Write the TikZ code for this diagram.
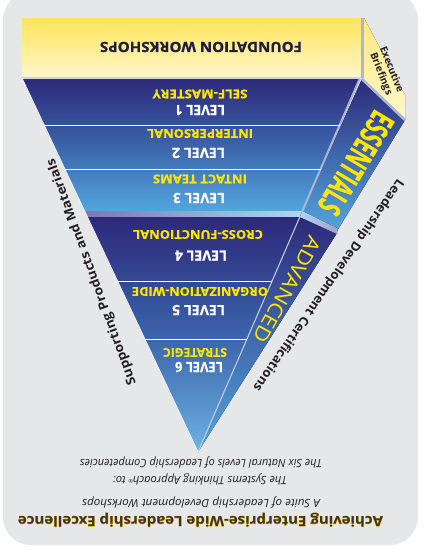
\documentclass[tikz,border=0pt]{standalone}
\usepackage{fontspec}
\setmainfont{Open Sans}
\newfontfamily\achfat{Open Sans}[FakeBold=2.2]
\newfontfamily\heavy{Open Sans}[FakeBold=0.7]
\newlength\pxu \setlength\pxu{0.75pt}
\newcommand\fitw[2]{\resizebox{#1\pxu}{\height}{#2}}
\definecolor{bgc}{HTML}{E6E7E8}
\definecolor{navy}{HTML}{2D2979}
\definecolor{midb}{HTML}{3B62AA}
\definecolor{ltb}{HTML}{52A6DD}
\definecolor{ltb2}{HTML}{AED6F3}
\definecolor{lav}{HTML}{7E76B4}
\definecolor{yel}{HTML}{FFE600}
\definecolor{gold}{HTML}{F2B000}
\definecolor{ridge}{HTML}{A9B6D4}
\definecolor{ylwa}{HTML}{FFE45A}
\definecolor{ylwb}{HTML}{FFF7CC}
\definecolor{ink}{HTML}{231F20}
\definecolor{fnd}{HTML}{1F1D3D}
\definecolor{achv}{HTML}{3D3520}
\begin{document}
\begin{tikzpicture}[x=0.75pt,y=-0.75pt,
  lvl/.style={rotate=180,inner sep=0,text=white,font=\heavy\bfseries\fontsize{10.5}{11}\selectfont},
  cat/.style={rotate=180,inner sep=0,text=yel,font=\heavy\bfseries\fontsize{9}{10}\selectfont},
  side/.style={inner sep=0,text=ink,font=\bfseries\fontsize{9.5}{10}\selectfont},
  capt/.style={rotate=180,inner sep=0,text=ink,font=\itshape\fontsize{8.5}{9}\selectfont},
  divl/.style={white,line width=0.75pt}]
\useasboundingbox (0,0) rectangle (425,550);
\fill[white] (0,0) rectangle (425,550);
\fill[bgc,rounded corners=21pt] (3,-8) rectangle (418,545);
% foundation block
\fill[top color=ylwa,bottom color=ylwb] (22,18) rectangle (361,78);
% executive briefings face
\fill[top color=ylwa!70!ylwb,bottom color=ylwb] (364,18) -- (405,95) -- (405,120) -- (362,78) -- cycle;
\fill[ridge] (361,18) rectangle (364,78);
% levels 1-3
\fill[top color=navy,bottom color=ltb,middle color=midb] (22,78) -- (360,78) -- (302.4,211) -- (84.6,211) -- cycle;
% essentials face
\fill[top color=navy,bottom color=ltb] (362,79) -- (405,120) -- (337,231) -- (302,212) -- cycle;
% separator band
\fill[left color=lav,right color=ltb2] (84.6,211) -- (302.4,211) -- (299.8,217) -- (87.4,217) -- cycle;
% levels 4-6
\fill[top color=navy,bottom color=ltb!85!white,middle color=midb] (87.4,217) -- (299.8,217) -- (198,452) -- cycle;
% advanced face
\fill[top color=navy,bottom color=ltb] (300,217) -- (337,233) -- (198,452) -- cycle;
% ridges
\fill[left color=ltb2,right color=lav!70!white] (302.4,211) -- (337,228) -- (337,234) -- (299.8,217) -- cycle;
\draw[ridge,line width=2pt] (362,79) -- (405,120);
\draw[ridge,line width=1.5pt] (360,78) -- (302.4,211);
\draw[ridge!70!white,line width=0.8pt] (299.8,217) -- (198,452);
\draw[ridge!60!white,line width=0.9pt] (22,78) -- (361,78);
\draw[white,line width=0.6pt] (22,78) -- (198,452);
% level dividers
\draw[divl] (44,125) -- (339.6,125);
\draw[divl] (65,169) -- (320.6,169);
\draw[divl] (117.5,281) -- (272,281);
\draw[divl] (144.8,339) -- (247,339);
% texts
\node[rotate=180,inner sep=0,text=fnd,font=\heavy\bfseries\fontsize{10.5}{11}\selectfont] (fw) at (201,47) {\fitw{202}{FOUNDATION WORKSHOPS}};
\node[cat] (c1) at (200,94) {\fitw{95}{SELF-MASTERY}};
\node[lvl] (l1) at (200,110) {\fitw{50}{LEVEL 1}};
\node[cat] (c2) at (200,133.5) {\fitw{106}{INTERPERSONAL}};
\node[lvl] (l2) at (198.5,153) {\fitw{53}{LEVEL 2}};
\node[cat] (c3) at (200,179) {\fitw{94}{INTACT TEAMS}};
\node[lvl] (l3) at (199,198) {\fitw{52}{LEVEL 3}};
\node[cat] (c4) at (198,234.5) {\fitw{130}{CROSS-FUNCTIONAL}};
\node[lvl] (l4) at (201,255.5) {\fitw{52}{LEVEL 4}};
\node[cat] (c5) at (200,291.5) {\fitw{136}{ORGANIZATION-WIDE}};
\node[lvl] (l5) at (198.5,310) {\fitw{53}{LEVEL 5}};
\node[cat] (c6) at (195,352.5) {\fitw{64}{STRATEGIC}};
\node[lvl] (l6) at (199,367) {\fitw{48}{LEVEL 6}};
\node[rotate=-121,inner sep=0,text=yel,font=\heavy\bfseries\fontsize{25}{25}\selectfont] (ess) at (356,163) {\fitw{114}{ESSENTIALS}};
\node[rotate=-119,inner sep=0,text=yel,font=\fontsize{15}{15}\selectfont] (adv) at (287,290) {\fitw{118}{ADVANCED}};
\node[rotate=-68,inner sep=0,align=center,text=ink,font=\bfseries\fontsize{7.5}{8.5}\selectfont] (exb) at (386,72) {Executive\\Briefings};
\node[side,rotate=110] (sup) at (92,272) {\fitw{240}{Supporting Products and Materials}};
\node[side,rotate=-124.6] (ldc) at (328,285) {\fitw{255}{Leadership Development Certifications}};
\node[capt] (t1) at (201,462) {\fitw{242}{The Six Natural Levels of Leadership Competencies}};
\node[capt] (t2) at (200,479) {\fitw{174}{The Systems Thinking Approach{\fontsize{4}{4}\selectfont\raisebox{2.5pt}{®}} to:}};
\node[capt] (t3) at (201,502) {\fitw{238}{A Suite of Leadership Development Workshops}};
\node[rotate=180,inner sep=0,text=gold,font=\achfat\bfseries\fontsize{10.5}{11}\selectfont] (achb) at (200.5,520) {\fitw{365}{Achieving Enterprise-Wide Leadership Excellence}};
\node[rotate=180,inner sep=0,text=achv,font=\bfseries\fontsize{10.5}{11}\selectfont] (ach) at (200.5,520) {\fitw{365}{Achieving Enterprise-Wide Leadership Excellence}};
\end{tikzpicture}
\end{document}
